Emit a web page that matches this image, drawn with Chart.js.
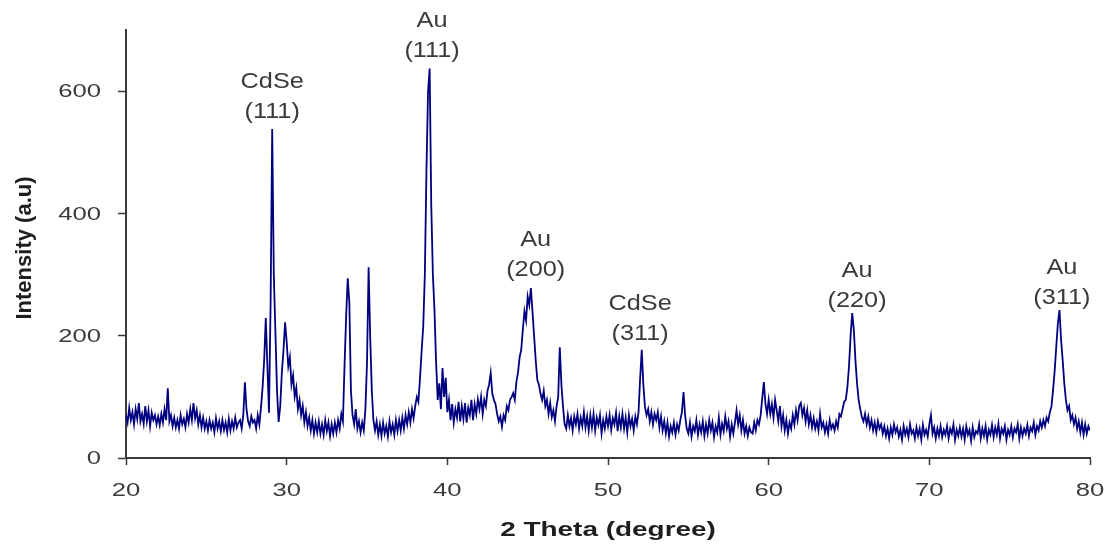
<!DOCTYPE html>
<html>
<head>
<meta charset="utf-8">
<script src="https://cdn.jsdelivr.net/npm/chart.js@4.4.1/dist/chart.umd.min.js"></script>
<style>
  html, body { margin: 0; padding: 0; background: #ffffff; }
  #wrap { width: 1107px; height: 546px; }
</style>
</head>
<body>
<div id="wrap"><canvas id="c" width="1107" height="546"></canvas></div>
<script>
// Scan grid: 2-theta from 20 to 80 deg, step 0.1 deg
const scanStart = 20;
const scanStep = 0.1;

// Intensity readings (a.u.), one array per 10-degree block
const int20s = [
  70, 58, 82, 62, 75, 55, 80, 64, 90, 60,
  72, 56, 85, 60, 78, 52, 74, 62, 70, 55,
  68, 54, 72, 58, 80, 62, 114, 60, 70, 52,
  66, 50, 62, 48, 70, 55, 64, 50, 72, 58,
  80, 62, 90, 65, 78, 55, 70, 50, 66, 48,
  60, 45, 62, 48, 58, 42, 65, 48, 60, 44,
  62, 46, 58, 42, 64, 45, 60, 48, 66, 50,
  58, 62, 48, 70, 124, 80, 60, 52, 68, 58,
  62, 48, 70, 55, 82, 115, 160, 229, 150, 74,
  253, 538, 300, 206, 110, 59, 85, 140, 175, 222
];
const int30s = [
  190, 150, 165, 120, 135, 100, 115, 80, 95, 70,
  85, 58, 75, 52, 66, 45, 62, 40, 58, 42,
  60, 40, 55, 38, 62, 44, 58, 36, 55, 40,
  58, 42, 62, 48, 72, 60, 150, 230, 294, 255,
  110, 70, 55, 80, 48, 60, 42, 58, 45, 80,
  155, 312, 198, 110, 62, 45, 60, 38, 55, 36,
  58, 40, 52, 35, 60, 42, 55, 38, 62, 44,
  62, 45, 66, 48, 70, 55, 75, 58, 80, 65,
  85, 100, 92, 131, 175, 215, 300, 470, 600, 637,
  413, 300, 242, 157, 95, 122, 80, 147, 100, 131
];
const int40s = [
  75, 95, 62, 88, 58, 80, 66, 92, 60, 85,
  64, 90, 58, 82, 70, 95, 62, 88, 72, 96,
  80, 100, 72, 95, 85, 110, 120, 139, 105, 95,
  88, 72, 60, 68, 51, 70, 62, 85, 78, 95,
  100, 106, 95, 125, 140, 165, 177, 210, 240, 225,
  264, 250, 278, 240, 200, 160, 128, 120, 105, 95,
  110, 85, 95, 72, 90, 67, 78, 60, 85, 100,
  181, 120, 84, 55, 48, 70, 52, 65, 45, 68,
  55, 72, 48, 66, 52, 75, 50, 68, 45, 70,
  50, 72, 45, 66, 54, 70, 40, 62, 48, 68
];
const int50s = [
  52, 70, 46, 65, 55, 74, 44, 68, 50, 72,
  48, 66, 42, 70, 52, 64, 45, 68, 55, 75,
  130, 177, 120, 84, 70, 80, 60, 75, 55, 72,
  62, 75, 50, 68, 45, 60, 40, 58, 35, 52,
  42, 58, 38, 55, 45, 62, 75, 108, 70, 48,
  40, 58, 35, 52, 44, 62, 38, 55, 42, 60,
  36, 55, 40, 62, 45, 58, 34, 52, 42, 66,
  38, 56, 44, 68, 48, 60, 35, 55, 40, 58,
  78, 55, 70, 45, 62, 40, 52, 36, 50, 42,
  40, 58, 45, 62, 55, 70, 98, 124, 88, 72
];
const int60s = [
  95, 72, 88, 66, 95, 78, 60, 85, 52, 70,
  45, 62, 40, 58, 48, 70, 55, 78, 62, 85,
  90, 70, 82, 60, 78, 55, 70, 50, 65, 48,
  60, 45, 72, 50, 58, 42, 55, 40, 62, 48,
  55, 45, 60, 50, 72, 68, 80, 92, 95, 116,
  150, 200, 237, 210, 160, 122, 95, 80, 67, 60,
  72, 55, 68, 50, 62, 45, 58, 42, 60, 48,
  55, 40, 52, 36, 48, 32, 50, 38, 55, 42,
  50, 35, 46, 30, 52, 38, 48, 34, 55, 40,
  45, 32, 50, 36, 48, 30, 54, 38, 46, 35
];
const int70s = [
  55, 70, 40, 50, 32, 48, 36, 52, 34, 46,
  38, 52, 32, 48, 40, 55, 30, 46, 36, 50,
  35, 48, 30, 52, 38, 46, 28, 50, 34, 44,
  40, 55, 32, 48, 36, 52, 30, 46, 38, 54,
  34, 50, 38, 56, 32, 48, 40, 52, 30, 46,
  38, 52, 34, 48, 42, 55, 32, 50, 36, 48,
  40, 54, 36, 50, 44, 58, 38, 52, 45, 60,
  50, 62, 52, 66, 60, 75, 84, 111, 142, 182,
  220, 242, 193, 160, 122, 95, 78, 85, 62, 70,
  55, 66, 48, 60, 42, 58, 38, 55, 40, 52
];
const int80 = [45];

// Axis ticks and titles
const xTicks = [20, 30, 40, 50, 60, 70, 80];
const yTicks = [0, 200, 400, 600];
const xTitle = '2 Theta (degree)';
const yTitle = 'Intensity (a.u)';

// Peak annotations
const peakPhase = ['CdSe', 'Au', 'Au', 'CdSe', 'Au', 'Au'];
const peakHkl   = ['(111)', '(111)', '(200)', '(311)', '(220)', '(311)'];
const peakAngle = [29.1, 39.05, 45.5, 52.0, 65.5, 78.25];
const peakTextI = [590, 690, 332, 228, 282, 286];

const intensities = [].concat(int20s, int30s, int40s, int50s, int60s, int70s, int80);
const points = intensities.map((v, i) => ({ x: +(scanStart + i * scanStep).toFixed(2), y: v }));

const textColor = '#3a3a3a';
const axisColor = '#3a3a3a';
const fam = '"Liberation Sans", Arial, sans-serif';

function stretchText(ctx, text, x, y, stretch, align) {
  ctx.save();
  ctx.translate(x, y);
  ctx.scale(stretch, 1);
  ctx.textAlign = align;
  ctx.fillText(text, 0, 0);
  ctx.restore();
}

const textPlugin = {
  id: 'texts',
  afterDraw(chart) {
    const ctx = chart.ctx;
    const xs = chart.scales.x, ys = chart.scales.y;
    ctx.save();
    ctx.fillStyle = textColor;
    ctx.textBaseline = 'middle';

    // tick labels
    ctx.font = '19px ' + fam;
    xTicks.forEach(v => stretchText(ctx, String(v), xs.getPixelForValue(v), 491, 1.35, 'center'));
    yTicks.forEach(v => stretchText(ctx, String(v), 101, ys.getPixelForValue(v) + 1, 1.35, 'right'));

    // axis titles
    ctx.fillStyle = '#1e1e1e';
    ctx.font = 'bold 21px ' + fam;
    stretchText(ctx, xTitle, (xs.left + xs.right) / 2, 530, 1.33, 'center');
    ctx.save();
    ctx.translate(25, 248);
    ctx.rotate(-Math.PI / 2);
    ctx.font = 'bold 22px ' + fam;
    ctx.textAlign = 'center';
    ctx.fillText(yTitle, 0, 0);
    ctx.restore();

    // peak annotations
    ctx.fillStyle = textColor;
    ctx.font = '22px ' + fam;
    for (let i = 0; i < peakPhase.length; i++) {
      const px = xs.getPixelForValue(peakAngle[i]);
      const py = ys.getPixelForValue(peakTextI[i]);
      stretchText(ctx, peakPhase[i], px, py - 15, 1.15, 'center');
      stretchText(ctx, peakHkl[i], px, py + 15, 1.15, 'center');
    }
    ctx.restore();
  }
};

new Chart(document.getElementById('c'), {
  type: 'line',
  data: {
    datasets: [{
      data: points,
      borderColor: '#000080',
      borderWidth: 1.8,
      pointRadius: 0,
      tension: 0,
      fill: false
    }]
  },
  options: {
    responsive: false,
    animation: false,
    events: [],
    layout: { padding: { top: 30, right: 17, bottom: 0, left: 0 } },
    plugins: { legend: { display: false }, tooltip: { enabled: false } },
    scales: {
      x: {
        type: 'linear',
        min: 20, max: 80,
        afterBuildTicks: s => { s.ticks = xTicks.map(v => ({ value: v })); },
        afterFit: s => { s.height = 88; s.paddingRight = 0; s.paddingLeft = 0; },
        grid: { display: true, drawOnChartArea: false, drawTicks: true, tickLength: 7, tickColor: axisColor, tickWidth: 1.5 },
        border: { display: true, color: axisColor, width: 2 },
        ticks: { display: false },
        title: { display: false }
      },
      y: {
        min: 0, max: 700,
        afterBuildTicks: s => { s.ticks = yTicks.map(v => ({ value: v })); },
        afterFit: s => { s.width = 126; s.paddingTop = 0; s.paddingBottom = 0; },
        grid: { display: true, drawOnChartArea: false, drawTicks: true, tickLength: 8, tickColor: axisColor, tickWidth: 1.5 },
        border: { display: true, color: axisColor, width: 2 },
        ticks: { display: false },
        title: { display: false }
      }
    }
  },
  plugins: [textPlugin]
});
</script>
</body>
</html>
